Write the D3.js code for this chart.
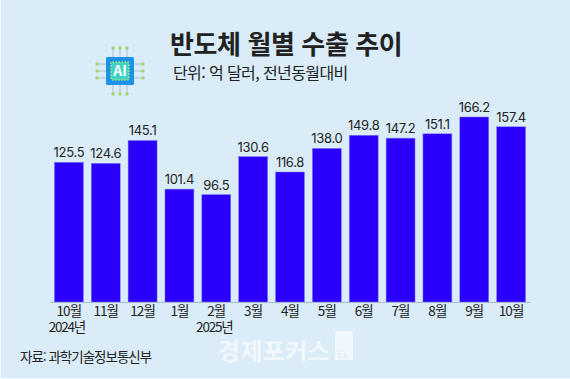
<!DOCTYPE html>
<html lang="ko">
<head>
<meta charset="UTF-8">
<title>반도체 월별 수출 추이</title>
<script src="https://d3js.org/d3.v7.min.js"></script>
<style>
    html, body { margin: 0; padding: 0; background: #fff; }
    svg { display: block; }
    text { font-family: "Noto Sans CJK KR", "Noto Sans", sans-serif; fill: #222; }
    .value { font-family: Inter, "Noto Sans", sans-serif; font-size: 13px; letter-spacing: -0.3px; }
    .tick text { font-family: "Noto Sans CJK KR", sans-serif; font-size: 13.5px; letter-spacing: -0.9px; fill: #222; }
</style>
</head>
<body>
<div id="chart"></div>
<script>
    // Data
    const months = ["10월", "11월", "12월", "1월", "2월", "3월", "4월", "5월", "6월", "7월", "8월", "9월", "10월"];
    const exportsValues = [125.5, 124.6, 145.1, 101.4, 96.5, 130.6, 116.8, 138.0, 149.8, 147.2, 151.1, 166.2, 157.4];
    const yearLabels = [[0, "2024년"], [4, "2025년"]];

    const width = 570, height = 379;
    const baseline = 302;

    const svg = d3.select("#chart").append("svg")
        .attr("width", width)
        .attr("height", height);

    // Background
    svg.append("rect").attr("width", width).attr("height", height).attr("fill", "#f3f9fd");
    svg.append("rect").attr("x", 1).attr("width", width - 1).attr("height", height - 1).attr("fill", "#d9ecf8");

    // the month names repeat, so the band scale runs on the index
    const x = d3.scaleBand()
        .domain(d3.range(months.length))
        .range([50, 530])
        .paddingInner(0.215)
        .paddingOuter(0.12);

    const y = d3.scaleLinear()
        .domain([0, 166.2])
        .range([baseline, 117]);

    // Bars
    svg.selectAll("rect.bar")
        .data(exportsValues)
        .enter()
        .append("rect")
        .attr("class", "bar")
        .attr("x", (d, i) => x(i))
        .attr("y", d => y(d))
        .attr("width", x.bandwidth())
        .attr("height", d => baseline - y(d))
        .attr("fill", "#2a00fa")
        .attr("stroke", "#7d7cf0")
        .attr("stroke-width", 0.5);

    svg.selectAll("text.value")
        .data(exportsValues)
        .enter()
        .append("text")
        .attr("class", "value")
        .attr("x", (d, i) => x(i) + x.bandwidth() / 2)
        .attr("y", d => y(d) - 5)
        .attr("text-anchor", "middle")
        .text(d => d.toFixed(1));

    // X axis
    const axis = svg.append("g")
        .attr("transform", `translate(0, ${baseline})`)
        .call(d3.axisBottom(x).tickSize(0).tickPadding(4).tickFormat(i => months[i]));
    axis.select(".domain").attr("stroke", "#a9b6cf").attr("stroke-width", 1);

    // Year labels under the first 10월 and 2월
    yearLabels.forEach(([i, label]) => {
        svg.append("text")
            .attr("x", x(i) + x.bandwidth() / 2 - 2)
            .attr("y", 332)
            .attr("text-anchor", "middle")
            .attr("font-size", 13.5)
            .attr("letter-spacing", -1.2)
            .text(label);
    });

    // Title
    svg.append("text")
        .attr("x", 170).attr("y", 54)
        .attr("font-size", 26)
        .attr("font-weight", 700)
        .attr("letter-spacing", -0.4)
        .text("반도체 월별 수출 추이");

    svg.append("text")
        .attr("x", 173).attr("y", 79)
        .attr("font-size", 16)
        .attr("letter-spacing", -0.6)
        .text("단위: 억 달러, 전년동월대비");

    // Source
    svg.append("text")
        .attr("x", 20).attr("y", 362)
        .attr("font-size", 13.5)
        .attr("letter-spacing", -1)
        .attr("fill", "#333")
        .text("자료: 과학기술정보통신부");

    // Watermark
    svg.append("text")
        .attr("x", 218).attr("y", 360)
        .attr("font-size", 24)
        .attr("font-weight", 700)
        .style("fill", "#f1f8fd")
        .attr("letter-spacing", 0.3)
        .text("경제포커스");
    svg.append("rect")
        .attr("x", 335).attr("y", 331).attr("width", 18).attr("height", 29)
        .attr("fill", "#f1f8fd");
    svg.append("text")
        .attr("x", 337).attr("y", 358)
        .attr("font-size", 11)
        .style("fill", "#d9ecf8")
        .text("Ei");

    // AI chip icon
    const icon = svg.append("g").attr("transform", "translate(120, 71)");
    const pins = [-7, 0, 7];
    pins.forEach(p => {
        [-1, 1].forEach(s => {
            icon.append("line").attr("x1", p).attr("y1", 0).attr("x2", p).attr("y2", s * 23).attr("stroke", "#9fb8b8").attr("stroke-width", 0.8);
            icon.append("line").attr("x1", 0).attr("y1", p).attr("x2", s * 23).attr("y2", p).attr("stroke", "#9fb8b8").attr("stroke-width", 0.8);
            icon.append("circle").attr("cx", p).attr("cy", s * 23).attr("r", 1.7).attr("fill", "#a5d46a");
            icon.append("circle").attr("cx", s * 23).attr("cy", p).attr("r", 1.7).attr("fill", "#a5d46a");
        });
    });
    icon.append("rect").attr("x", -14).attr("y", -14).attr("width", 28).attr("height", 28).attr("rx", 1.5).attr("fill", "#1c92ea");
    icon.append("rect").attr("x", -9).attr("y", -9).attr("width", 18).attr("height", 18).attr("rx", 1.5)
        .attr("fill", "#3fd3c4").attr("stroke", "#b9e06a").attr("stroke-width", 1.5).attr("stroke-dasharray", "1.5 1.5");
    icon.append("text")
        .attr("y", 5)
        .attr("text-anchor", "middle")
        .attr("font-size", 14)
        .attr("font-weight", 700)
        .style("fill", "#fff")
        .text("AI");
</script>
</body>
</html>
